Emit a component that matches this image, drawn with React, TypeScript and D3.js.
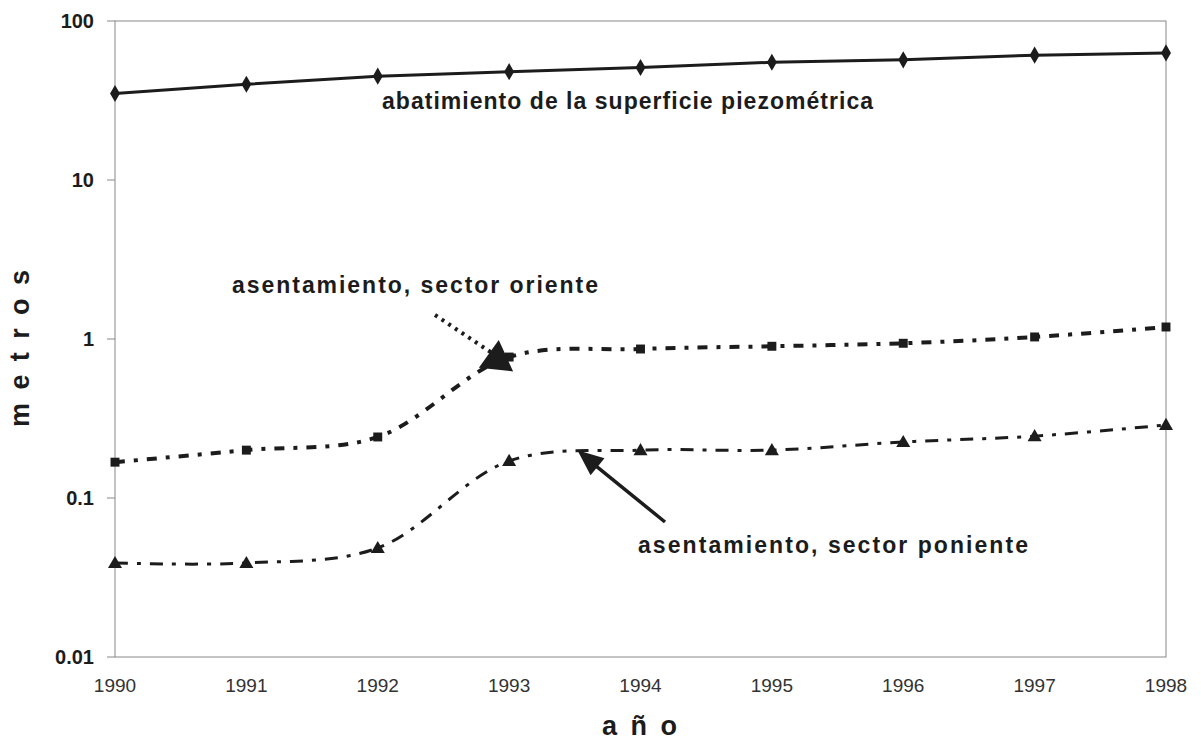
import React from "react";
import { scaleLinear, scaleLog, line, curveCatmullRom, curveLinear, symbol, symbolDiamond, symbolSquare, symbolTriangle } from "d3";

const years = [1990, 1991, 1992, 1993, 1994, 1995, 1996, 1997, 1998];
const piezometrica = [35, 40, 45, 48, 51, 55, 57, 61, 63];
const oriente = [0.168, 0.2, 0.242, 0.77, 0.865, 0.9, 0.94, 1.03, 1.19];
const poniente = [0.039, 0.039, 0.0485, 0.171, 0.2, 0.2, 0.225, 0.245, 0.288];
const yTicks = [0.01, 0.1, 1, 10, 100];
const yTickLabels = ["0.01", "0.1", "1", "10", "100"];

const W = 1201;
const H = 740;
const font = "Arial, 'Liberation Sans', sans-serif";
const ink = "#1c1c1c";

const x = scaleLinear().domain([1990, 1998]).range([115, 1166]);
const y = scaleLog().domain([0.01, 100]).range([657, 21]);

const mkLine = (curve: any) =>
  line<number>()
    .x((_, i) => x(years[i]))
    .y((d) => y(d))
    .curve(curve);

const arrowHead = (x1: number, y1: number, x2: number, y2: number, len: number, half: number) => {
  const dx = x2 - x1;
  const dy = y2 - y1;
  const l = Math.hypot(dx, dy);
  const ux = dx / l;
  const uy = dy / l;
  const bx = x2 - ux * len;
  const by = y2 - uy * len;
  return `M${x2},${y2}L${bx - uy * half},${by + ux * half}L${bx + uy * half},${by - ux * half}Z`;
};

const App = () => {
  const diamond = symbol().type(symbolDiamond).size(85)() as string;
  const square = symbol().type(symbolSquare).size(80)() as string;
  const triangle = symbol().type(symbolTriangle).size(85)() as string;

  // arrow for the east sector label
  const oTip = { x: x(1993) + 4, y: y(0.8) + 17 };
  const oTail = { x: 435, y: 315 };
  // arrow for the west sector label
  const pTip = { x: x(1993.52), y: y(0.2) };
  const pTail = { x: 665, y: 522 };

  return (
    <div style={{ position: "absolute", left: 0, top: 0 }}>
      <svg width={W} height={H} style={{ display: "block", background: "#fff" }}>
        <rect x={x(1990)} y={y(100)} width={x(1998) - x(1990)} height={y(0.01) - y(100)} fill="none" stroke="#888" strokeWidth={1} />
        {yTicks.map((t, i) => (
          <g key={t}>
            <line x1={x(1990) - 8} x2={x(1990)} y1={y(t)} y2={y(t)} stroke="#888" />
            <text x={94} y={y(t) + 7} textAnchor="end" fontFamily={font} fontWeight="bold" fontSize={20} fill={ink}>
              {yTickLabels[i]}
            </text>
          </g>
        ))}
        {years.map((yr) => (
          <text key={yr} x={x(yr)} y={692} textAnchor="middle" fontFamily={font} fontSize={19} fill="#333">
            {yr}
          </text>
        ))}

        <path d={mkLine(curveLinear)(piezometrica) as string} fill="none" stroke={ink} strokeWidth={3} />
        <path d={mkLine(curveCatmullRom.alpha(0.5))(oriente) as string} fill="none" stroke={ink} strokeWidth={4} strokeDasharray="10,9,4,9" />
        <path d={mkLine(curveCatmullRom.alpha(0.5))(poniente) as string} fill="none" stroke={ink} strokeWidth={3} strokeDasharray="13,9,4,9" />

        {piezometrica.map((v, i) => (
          <path key={i} d={diamond} transform={`translate(${x(years[i])},${y(v)})`} fill={ink} />
        ))}
        {oriente.map((v, i) => (
          <path key={i} d={square} transform={`translate(${x(years[i])},${y(v)})`} fill={ink} />
        ))}
        {poniente.map((v, i) => (
          <path key={i} d={triangle} transform={`translate(${x(years[i])},${y(v) + 1})`} fill={ink} />
        ))}

        <line x1={oTail.x} y1={oTail.y} x2={oTip.x - 22} y2={oTip.y - 19} stroke={ink} strokeWidth={4} strokeDasharray="3,5" />
        <path d={arrowHead(oTail.x, oTail.y, oTip.x, oTip.y, 30, 17)} fill={ink} />
        <line x1={pTail.x} y1={pTail.y} x2={pTip.x + 15} y2={pTip.y + 13} stroke={ink} strokeWidth={3.5} />
        <path d={arrowHead(pTail.x, pTail.y, pTip.x, pTip.y, 26, 11)} fill={ink} />

        <text x={382} y={109} textLength={491} lengthAdjust="spacing" fontFamily={font} fontWeight="bold" fontSize={23} fill={ink}>
          abatimiento de la superficie piezométrica
        </text>
        <text x={232} y={293} textLength={366} lengthAdjust="spacing" fontFamily={font} fontWeight="bold" fontSize={23} fill={ink}>
          asentamiento, sector oriente
        </text>
        <text x={638} y={553} textLength={390} lengthAdjust="spacing" fontFamily={font} fontWeight="bold" fontSize={23} fill={ink}>
          asentamiento, sector poniente
        </text>

        <text transform="translate(29,427) rotate(-90)" textLength={157} lengthAdjust="spacing" fontFamily={font} fontWeight="bold" fontSize={27} fill={ink}>
          metros
        </text>
        <text x={602} y={735} textLength={75} lengthAdjust="spacing" fontFamily={font} fontWeight="bold" fontSize={27} fill={ink}>
          a ñ o
        </text>
      </svg>
    </div>
  );
};

export default App;
